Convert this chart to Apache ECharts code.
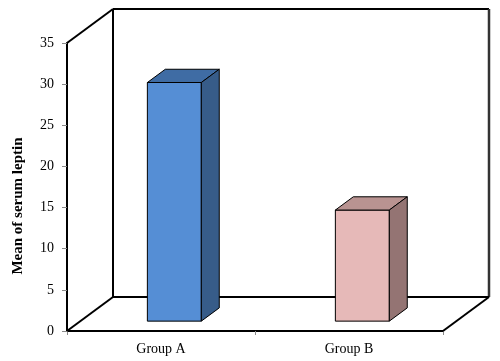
<!DOCTYPE html>
<html>
<head>
<meta charset="utf-8">
<script src="https://cdn.jsdelivr.net/npm/echarts@6/dist/echarts.min.js"></script>
<style>html,body{margin:0;padding:0;background:#fff}#c{width:500px;height:361px}</style>
</head>
<body>
<div id="c"></div>
<script>
var categories = ['Group A', 'Group B'];
var leptinValues = [29, 13.5];
var yTicks = [0, 5, 10, 15, 20, 25, 30, 35];
var yAxisTitle = 'Mean of serum leptin';

var frontColors = ['#558ED5', '#E6B9B8'];
var topColors = ['#3F6CA4', '#B99391'];
var sideColors = ['#375C89', '#947473'];

var DEPTH_X = 46, DEPTH_Y = -34;
var BAR_F0 = 0.29, BAR_F1 = 0.68;
var BAR_FRAC = 0.287;

var chart = echarts.init(document.getElementById('c'), null, {renderer: 'canvas'});

function frameItem(params, api) {
  var cs = params.coordSys;
  var x0 = cs.x, y0 = cs.y, x1 = cs.x + cs.width, y1 = cs.y + cs.height;
  var st = {stroke: '#000', lineWidth: 2, fill: null};
  function ln(a, b, c, d, s) {
    return {type: 'line', shape: {x1: a, y1: b, x2: c, y2: d}, style: s || st};
  }
  var bx = DEPTH_X, by = DEPTH_Y;
  return {
    type: 'group',
    children: [
      ln(x0 + bx, y0 + by, x1 + bx, y0 + by),
      ln(x0 + bx, y0 + by, x0 + bx, y1 + by),
      ln(x1 + bx, y0 + by, x1 + bx, y1 + by, {stroke: '#333', lineWidth: 2.5}),
      ln(x0 + bx, y1 + by, x1 + bx, y1 + by),
      ln(x0, y0, x0 + bx, y0 + by),
      ln(x0, y1, x0 + bx, y1 + by),
      ln(x1, y1, x1 + bx, y1 + by)
    ]
  };
}

function barItem(params, api) {
  var idx = api.value(0);
  var val = api.value(1);
  var base = api.coord([idx, 0]);
  var topPt = api.coord([idx, val]);
  var bandW = api.size([1, 0])[0];
  var w = bandW * BAR_FRAC;
  var fx = DEPTH_X * BAR_F0, fy = DEPTH_Y * BAR_F0;
  var dx = DEPTH_X * (BAR_F1 - BAR_F0), dy = DEPTH_Y * (BAR_F1 - BAR_F0);
  var left = base[0] - w / 2 + fx;
  var right = left + w;
  var bottom = base[1] + fy;
  var top = topPt[1] + fy;
  var i = params.dataIndex;
  var stroke = {stroke: '#000', lineWidth: 1};
  return {
    type: 'group',
    children: [
      {type: 'polygon', shape: {points: [[left, bottom], [right, bottom], [right, top], [left, top]]},
        style: Object.assign({fill: frontColors[i]}, stroke)},
      {type: 'polygon', shape: {points: [[left, top], [right, top], [right + dx, top + dy], [left + dx, top + dy]]},
        style: Object.assign({fill: topColors[i]}, stroke)},
      {type: 'polygon', shape: {points: [[right, bottom], [right + dx, bottom + dy], [right + dx, top + dy], [right, top]]},
        style: Object.assign({fill: sideColors[i]}, stroke)}
    ]
  };
}

var font = '"Liberation Serif", "DejaVu Serif", serif';

chart.setOption({
  animation: false,
  backgroundColor: '#fff',
  grid: {left: 67, top: 43, width: 376, height: 288, containLabel: false},
  xAxis: {
    type: 'category',
    data: categories,
    boundaryGap: true,
    axisLine: {show: true, lineStyle: {color: '#000', width: 2}},
    axisTick: {show: true, alignWithLabel: false, length: 4, lineStyle: {color: '#888', width: 1}},
    axisLabel: {color: '#000', fontFamily: font, fontSize: 14, margin: 11},
    splitLine: {show: false}
  },
  yAxis: {
    type: 'value',
    min: yTicks[0],
    max: yTicks[yTicks.length - 1],
    interval: 5,
    name: yAxisTitle,
    nameLocation: 'middle',
    nameRotate: 90,
    nameGap: 41,
    nameTextStyle: {color: '#000', fontFamily: font, fontSize: 15, fontWeight: 'bold', padding: [0, 38, 0, 0]},
    axisLine: {show: true, lineStyle: {color: '#000', width: 2}},
    axisTick: {show: true, length: 5, lineStyle: {color: '#888', width: 1}},
    axisLabel: {color: '#000', fontFamily: font, fontSize: 14, margin: 13},
    splitLine: {show: false}
  },
  series: [
    {
      type: 'custom',
      renderItem: frameItem,
      data: [[0, 0]],
      z: 1,
      silent: true
    },
    {
      type: 'custom',
      renderItem: barItem,
      data: leptinValues.map(function (v, i) { return [i, v]; }),
      encode: {x: 0, y: 1},
      z: 3
    }
  ]
});
</script>
</body>
</html>
